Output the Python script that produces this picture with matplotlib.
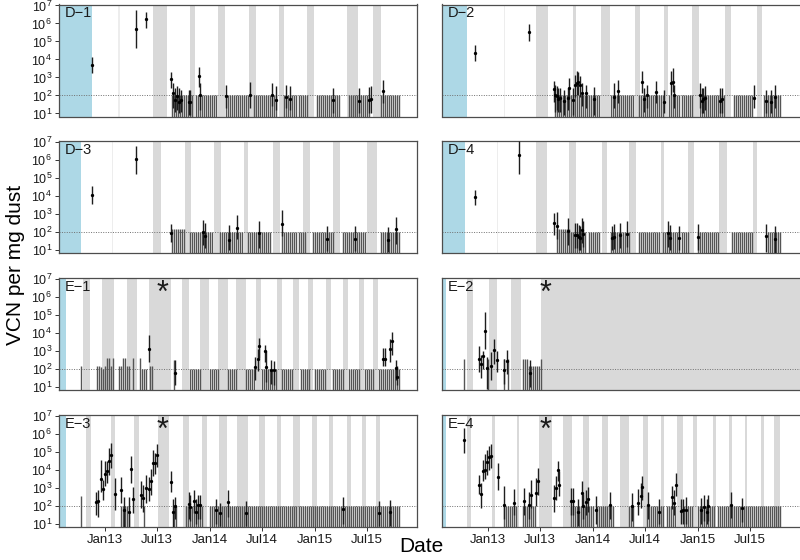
import matplotlib
matplotlib.use("Agg")
import matplotlib.pyplot as plt
import numpy as np
from matplotlib.transforms import blended_transform_factory

plt.rcParams["font.family"] = ["Liberation Sans", "DejaVu Sans"]
plt.rcParams["mathtext.fontset"] = "custom"
plt.rcParams["mathtext.rm"] = "Liberation Sans"
plt.rcParams["mathtext.default"] = "regular"

# x is in decimal years; non-detect samples are given as week numbers counted from 23 Jul 2012
X_START, X_END = 2012.562, 2015.971
WEEK = 7 / 365.25
STAR_DATE = 2013.547

tick_years = [2013.0, 2013.496, 2014.0, 2014.496, 2015.0, 2015.496]
tick_names = ["Jan13", "Jul13", "Jan14", "Jul14", "Jan15", "Jul15"]

# ---- D-1 ----
D1_blue = 2012.879
D1_faint = [2013.133]
D1_bands = [(2013.460, 2013.587), (2013.813, 2013.857), (2014.073, 2014.143), (2014.375, 2014.435),
            (2014.660, 2014.705), (2014.924, 2014.990), (2015.302, 2015.413), (2015.549, 2015.625)]
D1_date = [2012.879, 2013.298, 2013.387, 2013.629, 2013.648, 2013.667, 2013.686, 2013.705, 2013.724,
           2013.800, 2013.813, 2013.895, 2013.908, 2014.149, 2014.378, 2014.587, 2014.625, 2014.721,
           2014.759, 2015.171, 2015.422, 2015.517, 2015.537, 2015.651]
D1_log = [3.69, 5.67, 6.22, 2.89, 2.11, 1.72, 1.96, 1.65, 1.74, 1.65, 1.61, 3.06, 2.00, 1.96, 2.00,
          2.04, 1.74, 1.93, 1.78, 1.72, 1.67, 1.72, 1.78, 2.22]
D1_lo = [3.22, 4.61, 5.76, 2.39, 1.28, 1.10, 1.20, 1.00, 1.10, 0.90, 0.90, 2.48, 1.20, 1.30, 1.30,
         1.40, 1.20, 1.30, 1.20, 1.00, 1.00, 1.00, 1.00, 1.60]
D1_hi = [4.15, 6.74, 6.65, 3.31, 2.67, 2.40, 2.50, 2.40, 2.30, 2.30, 2.30, 3.59, 2.67, 2.60, 2.75,
         2.70, 2.50, 2.60, 2.50, 2.43, 2.40, 2.45, 2.50, 2.85]
D1_nd = [*range(56, 67), *range(68, 79), *range(83, 95), *range(97, 109), *range(112, 124),
         *range(128, 140), *range(144, 155), *range(160, 170)]
D1_tall = []

# ---- D-2 ----
D2_blue = 2012.797
D2_faint = [2013.156]
D2_bands = [(2013.457, 2013.568), (2013.810, 2013.835), (2014.076, 2014.162), (2014.400, 2014.448),
            (2014.676, 2014.717), (2014.943, 2015.010), (2015.257, 2015.314), (2015.559, 2015.606)]
D2_date = [2012.876, 2013.387, 2013.625, 2013.641, 2013.654, 2013.667, 2013.689, 2013.721, 2013.759, 2013.775,
           2013.810, 2013.832, 2013.845, 2013.861, 2013.876, 2013.892, 2013.930, 2014.013, 2014.197, 2014.238,
           2014.467, 2014.489, 2014.511, 2014.603, 2014.676, 2014.740, 2014.759, 2014.775, 2015.016, 2015.035,
           2015.051, 2015.070, 2015.206, 2015.232, 2015.537, 2015.651, 2015.692, 2015.730]
D2_log = [4.37, 5.52, 2.35, 2.00, 1.96, 1.81, 1.83, 1.69, 1.83, 2.41, 1.74, 2.57, 2.69, 2.74, 2.57, 2.15,
          2.11, 1.80, 1.89, 2.22, 2.74, 1.80, 2.02, 2.19, 1.63, 2.69, 2.76, 2.04, 2.00, 1.70, 1.78, 1.87,
          1.70, 1.78, 1.87, 1.70, 1.63, 1.93]
D2_lo = [3.91, 5.04, 1.65, 1.10, 1.2, 1.1, 1.1, 0.9, 1.2, 1.83, 0.9, 1.93, 2.0, 2.0, 1.9, 1.4, 1.3, 0.9,
         1.3, 1.6, 2.11, 1.1, 1.3, 1.6, 1.0, 2.02, 2.2, 1.3, 1.3, 1.0, 1.0, 1.2, 1.0, 1.0, 1.3, 1.0, 1.0, 1.3]
D2_hi = [4.80, 5.96, 2.81, 2.6, 2.5, 2.4, 2.4, 2.3, 2.4, 2.98, 2.4, 3.13, 3.33, 3.28, 3.1, 2.7, 2.6, 2.48,
         2.67, 2.85, 3.35, 2.4, 2.6, 2.80, 2.3, 3.33, 3.5, 2.6, 2.7, 2.4, 2.4, 2.5, 2.43, 2.4, 2.57, 2.3, 2.3, 2.6]
D2_nd = [*range(56, 79), *range(84, 96), *range(98, 111), *range(113, 125), *range(128, 141),
         *range(145, 155), *range(160, 169)]
D2_tall = []

# ---- D-3 ----
D3_blue = 2012.768
D3_faint = [2013.073]
D3_bands = [(2013.457, 2013.537), (2013.762, 2013.819), (2014.041, 2014.108), (2014.327, 2014.359),
            (2014.603, 2014.667), (2014.889, 2014.952), (2015.175, 2015.238), (2015.492, 2015.587)]
D3_date = [2012.879, 2013.295, 2013.629, 2013.937, 2013.949, 2014.184, 2014.260, 2014.470, 2014.683,
           2015.117, 2015.384, 2015.692, 2015.768]
D3_log = [4.09, 6.04, 1.93, 2.02, 1.78, 1.59, 2.26, 1.93, 2.48, 1.65, 1.65, 1.59, 2.19]
D3_lo = [3.57, 5.26, 1.44, 1.3, 1.1, 1.0, 1.6, 1.1, 1.8, 0.95, 0.95, 0.9, 1.35]
D3_hi = [4.56, 6.78, 2.43, 2.7, 2.5, 2.4, 2.93, 2.61, 3.22, 2.33, 2.33, 2.3, 2.83]
D3_nd = [*range(65, 77), *range(80, 92), *range(94, 106), *range(111, 123), *range(126, 137),
         *range(141, 153), *range(160, 170)]
D3_tall = [(56, 2.17), (57, 2.17), (58, 2.17), (59, 2.17), (60, 2.17), (61, 2.17), (62, 2.17)]

# ---- D-4 ----
D4_blue = 2012.781
D4_faint = [2013.092]
D4_bands = [(2013.457, 2013.559), (2013.775, 2013.835), (2014.083, 2014.130), (2014.346, 2014.410),
            (2014.644, 2014.676), (2014.908, 2014.965), (2015.203, 2015.273), (2015.527, 2015.565)]
D4_date = [2012.876, 2013.298, 2013.625, 2013.660, 2013.759, 2013.829, 2013.851, 2013.867, 2013.880,
           2013.892, 2013.905, 2014.178, 2014.197, 2014.257, 2014.321, 2014.717, 2014.737, 2014.816,
           2015.003, 2015.651, 2015.730]
D4_log = [3.94, 6.31, 2.50, 2.37, 2.06, 1.83, 1.83, 1.72, 1.69, 2.11, 1.91, 1.69, 1.74, 1.83, 1.91,
          1.93, 1.69, 1.69, 1.72, 1.78, 1.61]
D4_lo = [3.52, 5.26, 1.87, 1.63, 1.3, 1.15, 1.1, 1.0, 1.0, 1.4, 1.2, 1.0, 1.05, 1.15, 1.2, 1.2, 1.0,
         1.0, 1.0, 0.9, 0.85]
D4_hi = [4.37, 7.05, 3.09, 3.13, 2.8, 2.5, 2.5, 2.4, 2.35, 2.8, 2.6, 2.35, 2.45, 2.5, 2.65, 2.65, 2.4,
         2.35, 2.43, 2.46, 2.32]
D4_nd = [*range(64, 72), *range(73, 79), *range(84, 94), *range(98, 109), *range(110, 123),
         *range(127, 138), *range(144, 155), *range(162, 169)]
D4_tall = [(57, 2.17), (58, 2.17), (59, 2.17), (60, 2.17), (61, 2.17), (62, 2.17), (63, 2.17)]

# ---- E-1 ----
E1_blue = 2012.625
E1_faint = []
E1_bands = [(2012.787, 2012.857), (2012.968, 2013.089), (2013.213, 2013.302), (2013.419, 2013.629),
            (2013.737, 2013.803), (2013.905, 2013.994), (2014.079, 2014.168), (2014.248, 2014.343),
            (2014.435, 2014.486), (2014.635, 2014.683), (2014.787, 2014.848), (2014.937, 2014.984),
            (2015.105, 2015.152), (2015.270, 2015.317), (2015.422, 2015.470), (2015.549, 2015.597)]
E1_date = [2013.419, 2013.667, 2014.429, 2014.454, 2014.470, 2014.524, 2014.530, 2014.584, 2014.610,
           2015.651, 2015.667, 2015.714, 2015.737, 2015.771, 2015.784]
E1_log = [3.13, 1.78, 2.11, 2.54, 3.28, 2.98, 2.11, 1.96, 1.93, 2.59, 2.59, 3.11, 3.54, 2.06, 1.59]
E1_lo = [2.39, 1.1, 1.4, 1.9, 2.6, 2.4, 1.3, 1.2, 1.1, 2.2, 2.2, 2.4, 2.8, 1.4, 1.1]
E1_hi = [3.87, 2.48, 2.67, 3.13, 3.74, 3.35, 2.98, 2.5, 2.43, 3.2, 3.2, 3.7, 4.04, 2.5, 2.2]
E1_nd = [*range(65, 71), *range(75, 80), *range(84, 89), *range(93, 98), *range(101, 109),
         *range(111, 117), *range(120, 125), *range(127, 133), *range(136, 142), *range(144, 150),
         *range(152, 157), *range(159, 170)]
E1_tall = [(11, 2.2), (19, 2.2), (20, 2.2), (21, 2.1), (22, 2.0), (23, 2.2), (24, 2.6), (25, 2.6),
           (26, 2.2), (27, 2.6), (30, 2.2), (31, 2.2), (32, 2.6), (33, 2.6), (34, 2.2), (35, 2.2),
           (37, 2.6), (40, 2.6), (41, 2.0), (42, 2.0), (43, 2.0), (45, 2.2), (46, 2.2), (57, 2.5)]

# ---- E-2 ----
E2_blue = 2012.600
E2_faint = []
E2_bands = [(2012.797, 2012.854), (2013.013, 2013.083), (2013.219, 2013.314), (2013.505, 2016.5)]
E2_date = [2012.917, 2012.937, 2012.956, 2012.975, 2012.994, 2013.032, 2013.054, 2013.089, 2013.149,
           2013.184, 2013.397]
E2_log = [2.57, 2.28, 2.72, 4.13, 2.09, 2.19, 3.04, 2.48, 1.96, 2.44, 1.78]
E2_lo = [1.83, 1.5, 2.0, 3.1, 0.9, 1.4, 2.3, 1.83, 1.2, 1.74, 1.0]
E2_hi = [3.31, 2.81, 3.0, 5.17, 2.67, 2.96, 3.67, 3.02, 2.57, 3.09, 2.48]
E2_nd = []
E2_tall = [(11, 2.57), (23, 2.57), (31, 2.57), (33, 2.57), (40, 2.57), (41, 2.57), (42, 2.57),
           (43, 2.17), (44, 2.17), (45, 2.17), (46, 2.17), (47, 2.17), (48, 2.17), (49, 2.57)]

# ---- E-3 ----
E3_blue = 2012.625
E3_faint = []
E3_bands = [(2012.819, 2012.863), (2013.057, 2013.095), (2013.279, 2013.324), (2013.508, 2013.613),
            (2013.740, 2013.800), (2013.921, 2013.975), (2014.089, 2014.159), (2014.260, 2014.359),
            (2014.467, 2014.524), (2014.635, 2014.676), (2014.794, 2014.857), (2014.975, 2015.022),
            (2015.137, 2015.175), (2015.302, 2015.343), (2015.451, 2015.483), (2015.581, 2015.619)]
E3_date = [2012.917, 2012.937, 2012.959, 2012.978, 2012.997, 2013.016, 2013.035, 2013.057, 2013.095,
           2013.152, 2013.181, 2013.229, 2013.248, 2013.270, 2013.343, 2013.362, 2013.394, 2013.416,
           2013.438, 2013.457, 2013.476, 2013.495, 2013.629, 2013.648, 2013.667, 2013.800, 2013.813,
           2013.848, 2013.863, 2013.883, 2013.902, 2014.054, 2014.092, 2014.168, 2014.340, 2015.270,
           2015.613, 2015.711]
E3_log = [2.24, 2.28, 3.52, 2.93, 3.80, 3.93, 4.48, 4.85, 2.69, 2.87, 1.78, 1.70, 4.04, 2.41, 2.63,
          2.43, 3.00, 2.96, 3.41, 4.41, 4.39, 4.83, 3.35, 1.70, 1.98, 2.11, 1.94, 2.28, 1.69, 2.06,
          2.06, 1.78, 1.61, 2.24, 1.61, 1.85, 1.63, 1.67]
E3_lo = [1.5, 1.4, 2.81, 2.35, 3.1, 3.3, 3.74, 4.11, 1.8, 2.15, 0.8, 0.8, 3.3, 1.6, 1.9, 1.7, 2.2,
         2.3, 2.6, 3.7, 3.8, 4.2, 2.8, 0.8, 1.3, 1.3, 1.2, 1.6, 1.0, 1.3, 1.3, 1.0, 0.9, 1.4, 0.9,
         1.0, 0.9, 0.9]
E3_hi = [2.81, 2.91, 4.57, 3.46, 4.50, 4.53, 5.22, 5.48, 3.57, 3.61, 2.5, 2.5, 4.78, 3.09, 3.37,
         3.20, 3.74, 3.63, 4.06, 5.11, 4.94, 5.43, 3.96, 2.4, 2.5, 2.8, 2.6, 2.91, 2.4, 2.6, 2.6,
         2.4, 2.2, 2.87, 2.3, 2.5, 2.3, 2.33]
E3_nd = [*range(31, 36), 42, 57, 58, *range(63, 72), *range(75, 170)]
E3_tall = [(11, 2.57)]

# ---- E-4 ----
E4_blue = 2012.600
E4_faint = []
E4_bands = [(2012.797, 2012.838), (2013.035, 2013.067), (2013.279, 2013.295), (2013.489, 2013.606),
            (2013.718, 2013.797), (2013.902, 2013.965), (2014.083, 2014.146), (2014.257, 2014.346),
            (2014.473, 2014.521), (2014.644, 2014.679), (2014.797, 2014.854), (2014.956, 2014.987),
            (2015.146, 2015.171), (2015.298, 2015.327), (2015.448, 2015.464), (2015.600, 2015.632),
            (2015.727, 2015.781)]
E4_date = [2012.775, 2012.917, 2012.937, 2012.956, 2012.975, 2012.994, 2013.013, 2013.032, 2013.092,
           2013.152, 2013.251, 2013.343, 2013.390, 2013.413, 2013.454, 2013.473, 2013.629, 2013.644,
           2013.667, 2013.679, 2013.790, 2013.810, 2013.860, 2013.895, 2013.908, 2013.933, 2013.953,
           2014.026, 2014.165, 2014.375, 2014.425, 2014.454, 2014.470, 2014.521, 2014.625, 2014.756,
           2014.768, 2014.787, 2014.835, 2014.854, 2014.883, 2015.029, 2015.060, 2015.083, 2015.099,
           2015.311, 2015.422]
E4_log = [5.67, 3.19, 2.65, 3.93, 3.98, 4.43, 4.74, 4.78, 3.61, 2.07, 2.20, 2.26, 2.06, 2.61, 2.72,
          3.37, 2.44, 3.02, 4.02, 3.20, 2.31, 2.31, 1.67, 2.72, 2.00, 2.22, 2.39, 1.80, 2.07, 1.98,
          2.19, 2.54, 3.04, 2.06, 1.67, 2.50, 2.17, 3.20, 1.74, 1.78, 1.80, 1.78, 1.93, 1.70, 1.98,
          2.07, 1.89]
E4_lo = [4.94, 2.65, 1.87, 3.37, 3.48, 3.74, 4.02, 4.11, 2.87, 1.28, 1.5, 1.5, 1.3, 1.87, 1.98, 2.63,
         1.7, 2.35, 3.37, 2.57, 1.5, 1.5, 0.9, 2.0, 1.3, 1.5, 1.65, 1.0, 1.3, 1.2, 1.5, 1.9, 2.35, 1.3,
         1.0, 1.83, 1.5, 2.57, 1.0, 1.0, 1.0, 1.0, 1.2, 1.0, 1.2, 1.33, 1.1]
E4_hi = [6.33, 3.74, 3.28, 4.57, 4.87, 5.11, 5.33, 5.43, 4.39, 3.13, 2.96, 3.02, 2.81, 3.46, 3.57,
         4.11, 3.20, 3.67, 4.48, 3.93, 3.0, 3.0, 2.4, 3.37, 2.7, 2.9, 3.09, 2.57, 2.81, 2.74, 2.96,
         3.28, 3.69, 2.81, 2.4, 3.13, 2.9, 3.83, 2.4, 2.4, 2.5, 2.43, 2.6, 2.4, 2.6, 2.76, 2.46]
E4_nd = [*range(31, 38), *range(40, 47), *range(64, 76), *range(77, 86), *range(93, 96),
         *range(102, 111), *range(112, 117), *range(120, 125), *range(127, 136), *range(137, 169)]
E4_tall = []

panels = [
    ("D\u22121", D1_blue, D1_faint, D1_bands, D1_date, D1_log, D1_lo, D1_hi, D1_nd, D1_tall, False),
    ("D\u22122", D2_blue, D2_faint, D2_bands, D2_date, D2_log, D2_lo, D2_hi, D2_nd, D2_tall, False),
    ("D\u22123", D3_blue, D3_faint, D3_bands, D3_date, D3_log, D3_lo, D3_hi, D3_nd, D3_tall, False),
    ("D\u22124", D4_blue, D4_faint, D4_bands, D4_date, D4_log, D4_lo, D4_hi, D4_nd, D4_tall, False),
    ("E\u22121", E1_blue, E1_faint, E1_bands, E1_date, E1_log, E1_lo, E1_hi, E1_nd, E1_tall, True),
    ("E\u22122", E2_blue, E2_faint, E2_bands, E2_date, E2_log, E2_lo, E2_hi, E2_nd, E2_tall, True),
    ("E\u22123", E3_blue, E3_faint, E3_bands, E3_date, E3_log, E3_lo, E3_hi, E3_nd, E3_tall, True),
    ("E\u22124", E4_blue, E4_faint, E4_bands, E4_date, E4_log, E4_lo, E4_hi, E4_nd, E4_tall, True),
]

W, H = 800, 560
fig = plt.figure(figsize=(8, 5.6), dpi=100)
col_left = [59, 442]
row_top = [4.5, 141.3, 278.2, 415.2]
ax_w, ax_h = 358, 112

for i, (label, blue, faint, bands, dates, logs, lo, hi, nd, tall, star) in enumerate(panels):
    r, c = divmod(i, 2)
    ax = fig.add_axes([col_left[c] / W, 1 - (row_top[r] + ax_h) / H, ax_w / W, ax_h / H])
    ax.set_yscale("log")
    ax.set_xlim(X_START, X_END)
    ax.set_ylim(10 ** 0.83, 10 ** 7.05)

    ax.axvspan(X_START - 0.1, blue, color="#ADD8E6", lw=0, zorder=0)
    for a, b in bands:
        ax.axvspan(a, b, color="#D9D9D9", lw=0, zorder=0)
    for f in faint:
        ax.axvspan(f - 0.006, f + 0.006, color="#EDEDED", lw=0, zorder=0)
    ax.axhline(100, color="#707070", ls=(0, (1, 1.5)), lw=0.7, zorder=1)

    # non-detects: bar from the bottom up to the detection limit
    if nd:
        ax.vlines(X_START + np.array(nd) * WEEK, 1, 100, color="#555555", lw=1.0, zorder=2)
    for w, top in tall:
        ax.vlines(X_START + w * WEEK, 1, 10 ** top, color="#555555", lw=1.0, zorder=2)

    d = np.array(dates)
    ax.vlines(d, 10 ** np.array(lo), 10 ** np.array(hi), color="#1e1e1e", lw=1.0, zorder=3)
    ax.plot(d, 10 ** np.array(logs), "o", color="black", ms=2.4, mew=0, zorder=4)

    ax.text(0.017, 0.985, label, transform=ax.transAxes, ha="left", va="top",
            fontsize=10.5, color="#1a1a1a")
    if star:
        tr = blended_transform_factory(ax.transData, ax.transAxes)
        ax.text(STAR_DATE, 0.79, "*", transform=tr, ha="center", va="baseline",
                fontsize=22, color="#1a1a1a")

    ax.yaxis.set_minor_locator(matplotlib.ticker.NullLocator())
    if c == 0:
        ax.set_yticks([10 ** k for k in range(1, 8)])
        ax.set_yticklabels(["$10^{%d}$" % k for k in range(1, 8)])
        ax.tick_params(axis="y", length=3, width=0.7, color="#333333", labelsize=9, pad=2,
                       labelcolor="#1a1a1a")
    else:
        ax.set_yticks([])
        ax.spines["right"].set_visible(False)
    if r == 3:
        ax.set_xticks(tick_years)
        ax.set_xticklabels(tick_names)
        ax.tick_params(axis="x", length=3, width=0.7, color="#333333", labelsize=9.5, pad=2,
                       labelcolor="#1a1a1a")
    else:
        ax.set_xticks([])
    for s in ax.spines.values():
        s.set_color("#4d4d4d")
        s.set_linewidth(0.9)

fig.text(0.019, 0.527, "VCN per mg dust", rotation=90, ha="center", va="center", fontsize=15)
fig.text(421 / W, 1 - 547 / H, "Date", ha="center", va="center", fontsize=15)

fig.savefig("out.png", dpi=100)
